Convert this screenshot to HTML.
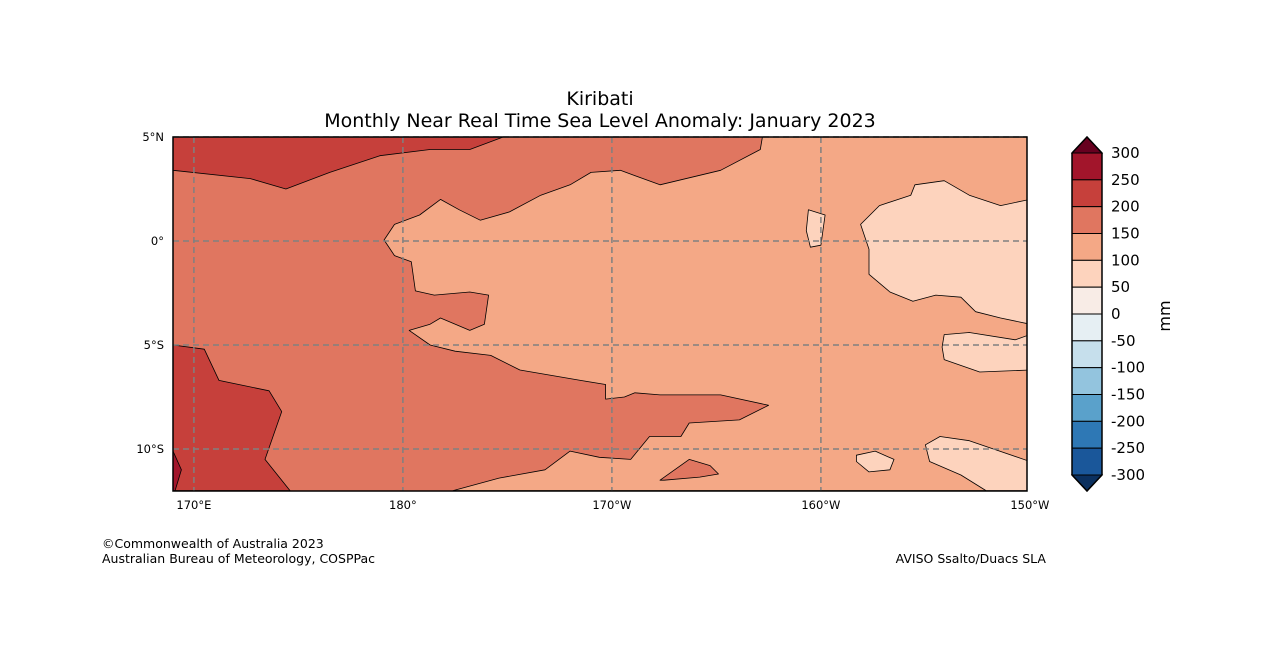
<!DOCTYPE html>
<html><head><meta charset="utf-8"><style>
body{margin:0;background:#fff;}
svg{display:block;font-family:"DejaVu Sans","Liberation Sans",sans-serif;}
</style></head><body>
<svg id="chart" width="1262" height="667" xmlns="http://www.w3.org/2000/svg">
<text x="600" y="105" font-size="19" text-anchor="middle">Kiribati</text>
<text x="600" y="127" font-size="19" text-anchor="middle">Monthly Near Real Time Sea Level Anomaly: January 2023</text>
<defs><clipPath id="mc"><rect x="173" y="137" width="854" height="354"/></clipPath></defs>
<g id="map" clip-path="url(#mc)"></g>
<g id="grid"></g>
<rect x="173" y="137" width="854" height="354" fill="none" stroke="#000" stroke-width="1.5"/>
<g id="axes" font-size="11.5"></g>
<g id="cbar"></g>
<text x="1170" y="316" font-size="16" text-anchor="middle" transform="rotate(-90 1170 316)">mm</text>
<text x="102" y="548" font-size="12.5">©Commonwealth of Australia 2023</text>
<text x="102" y="563" font-size="12.5">Australian Bureau of Meteorology, COSPPac</text>
<text x="1046" y="563" font-size="12.5" text-anchor="end">AVISO Ssalto/Duacs SLA</text>
</svg>
<script>
{
const lonTicks=[170,180,190,200,210];
const lonLabels=["170°E","180°","170°W","160°W","150°W"];
const latTicks=[5,0,-5,-10];
const latLabels=["5°N","0°","5°S","10°S"];
const levels=[300,250,200,150,100,50,0,-50,-100,-150,-200,-250,-300];
const bandColors=["#a2152b","#c6403b","#e07660","#f4a886","#fdd3bd","#f8ece6","#e6eff3","#c6dfec","#93c4de","#5aa1cb","#2e78b5","#1a579a"];
const overColor="#67001f", underColor="#0b305f";
const fillBase="#e07660";
const redTop=[[169,5],[169,3.4],[172.7,3],[174.4,2.5],[176.5,3.3],[178.9,4.1],[181.3,4.4],[183.2,4.4],[184.8,5]];
const redLeft=[[169,-5],[170.5,-5.2],[171.2,-6.7],[173.6,-7.2],[174.2,-8.2],[173.4,-10.5],[174.6,-12],[169,-12]];
const darkLeft=[[169,-10.1],[169.4,-11],[169.1,-12],[169,-12]];
const lightRegion=[[197.2,5],[197.1,4.4],[195.2,3.4],[192.3,2.7],[190.4,3.4],[189,3.3],[188,2.7],[186.6,2.2],[185.1,1.4],[183.7,1.0],[182.7,1.5],[181.8,2.0],[180.8,1.25],[179.6,0.8],[179.1,0.05],[179.6,-0.7],[180.4,-1.0],[180.6,-2.4],[181.5,-2.6],[183.2,-2.45],[184.1,-2.6],[183.9,-4.0],[183.2,-4.3],[181.8,-3.7],[181.3,-4.0],[180.3,-4.3],[181.3,-5.0],[182.5,-5.3],[184.2,-5.5],[185.6,-6.2],[188.5,-6.7],[189.7,-6.9],[189.7,-7.6],[190.6,-7.5],[191.1,-7.3],[192.3,-7.4],[195.2,-7.4],[197.5,-7.9],[196.1,-8.6],[193.7,-8.75],[193.3,-9.4],[191.8,-9.4],[190.9,-10.5],[189.4,-10.4],[188,-10.1],[186.8,-11],[184.6,-11.4],[182.4,-12],[210,-12],[210,5]];
const palestA=[[210,2.0],[208.6,1.7],[207.1,2.2],[205.9,2.9],[204.5,2.7],[204.3,2.2],[202.8,1.7],[201.9,0.8],[202.3,-0.4],[202.3,-1.6],[203.3,-2.45],[204.4,-2.9],[205.5,-2.6],[206.7,-2.7],[207.4,-3.4],[208.6,-3.7],[210,-4.0]];
const palestB=[[199.4,1.5],[200.2,1.25],[200,-0.2],[199.5,-0.3],[199.3,0.5]];
const palestC=[[205.9,-4.5],[207.1,-4.4],[209.3,-4.75],[210,-4.5],[210,-6.2],[207.6,-6.3],[205.9,-5.7],[205.8,-5.1]];
const palestD=[[201.7,-10.3],[202.6,-10.1],[203.5,-10.5],[203.3,-11],[202.3,-11.1],[201.7,-10.6]];
const palestE=[[205,-9.8],[205.7,-9.4],[207.1,-9.6],[210,-10.6],[210,-12],[207.9,-12],[206.7,-11.25],[205.2,-10.6]];
const redIsland=[[192.3,-11.5],[193.7,-10.5],[194.7,-10.8],[195.1,-11.2],[194.2,-11.35],[192.5,-11.5]];

const X=lon=>173+(lon-169)*20.9;
const Y=lat=>137+(5-lat)*20.8;
const NS="http://www.w3.org/2000/svg";
function mk(tag,attrs,parent){const e=document.createElementNS(NS,tag);for(const k in attrs)e.setAttribute(k,attrs[k]);parent.appendChild(e);return e;}
const map=document.getElementById('map');
const bg=mk('rect',{x:173,y:137,width:854,height:354,fill:fillBase},map);


function poly(pts,color,name){
  const d=pts.map((p,i)=>(i?'L':'M')+X(p[0]).toFixed(1)+' '+Y(p[1]).toFixed(1)).join(' ')+' Z';
  const e=mk('path',{d:d,fill:color,stroke:'#000','stroke-width':0.8,'stroke-linejoin':'round'},map);
  
  
}
poly(lightRegion,bandColors[3],'anomaly-100-150-region');
poly(palestA,bandColors[4],'anomaly-50-100-region-east');
poly(palestB,bandColors[4],'anomaly-50-100-region-small');
poly(palestC,bandColors[4],'anomaly-50-100-region-5s');
poly(palestD,bandColors[4],'anomaly-50-100-region-10s');
poly(palestE,bandColors[4],'anomaly-50-100-region-southeast');
poly(redIsland,bandColors[2],'anomaly-150-200-patch');
poly(redTop,bandColors[1],'anomaly-200-250-region-north');
poly(redLeft,bandColors[1],'anomaly-200-250-region-southwest');
poly(darkLeft,bandColors[0],'anomaly-250-300-region');

const grid=document.getElementById('grid'), axes=document.getElementById('axes');
lonTicks.forEach((v,i)=>{
  if(v<210){const l=mk('line',{x1:X(v),x2:X(v),y1:137,y2:491,stroke:'#808080','stroke-width':1.5,'stroke-dasharray':'6,4'},grid);
  
  }
  const t=mk('text',{x:X(v),y:509,'text-anchor':'middle'},axes);t.textContent=lonLabels[i];
  
  
});
latTicks.forEach((v,i)=>{
  const l=mk('line',{x1:173,x2:1027,y1:Y(v),y2:Y(v),stroke:'#808080','stroke-width':1.5,'stroke-dasharray':'6,4'},grid);
  
  
  const t=mk('text',{x:164,y:Y(v)+4,'text-anchor':'end'},axes);t.textContent=latLabels[i];
  
  
});

const cb=document.getElementById('cbar');
const cx=1072,cw=30,cbTop=153,cbBot=475,bh=(cbBot-cbTop)/bandColors.length;
bandColors.forEach((c,i)=>{
  const r=mk('rect',{x:cx,y:cbTop+i*bh,width:cw,height:bh,fill:c,stroke:'#000','stroke-width':1},cb);
  
  
});
const tu=mk('path',{d:`M${cx} ${cbTop} L${cx+cw/2} 137 L${cx+cw} ${cbTop} Z`,fill:overColor,stroke:'#000','stroke-width':1},cb);


const td=mk('path',{d:`M${cx} ${cbBot} L${cx+cw/2} 491 L${cx+cw} ${cbBot} Z`,fill:underColor,stroke:'#000','stroke-width':1},cb);


const ob=mk('path',{d:`M${cx} ${cbTop} L${cx+cw/2} 137 L${cx+cw} ${cbTop} L${cx+cw} ${cbBot} L${cx+cw/2} 491 L${cx} ${cbBot} Z`,fill:'none',stroke:'#000','stroke-width':1.5},cb);


levels.forEach((v,i)=>{
  const t=mk('text',{x:1111,y:cbTop+i*bh+5,'font-size':15},cb);t.textContent=v;
  
  
});
}
</script>
</body></html>
